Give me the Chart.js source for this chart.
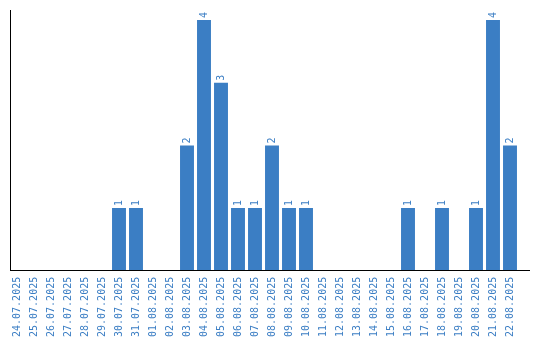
<!DOCTYPE html>
<html><head><meta charset="utf-8">
<script src="https://cdn.jsdelivr.net/npm/chart.js@4/dist/chart.umd.min.js"></script>
<style>html,body{margin:0;padding:0;background:#fff}</style>
</head><body>
<canvas id="c" width="540" height="340"></canvas>
<script>
const categories = ["24.07.2025","25.07.2025","26.07.2025","27.07.2025","28.07.2025","29.07.2025","30.07.2025","31.07.2025","01.08.2025","02.08.2025","03.08.2025","04.08.2025","05.08.2025","06.08.2025","07.08.2025","08.08.2025","09.08.2025","10.08.2025","11.08.2025","12.08.2025","13.08.2025","14.08.2025","15.08.2025","16.08.2025","17.08.2025","18.08.2025","19.08.2025","20.08.2025","21.08.2025","22.08.2025"];
const values = [0,0,0,0,0,0,1,1,0,0,2,4,3,1,1,2,1,1,0,0,0,0,0,1,0,1,0,1,4,2];
const BLUE = '#3b7ec4';

const valueLabels = {
  id: 'valueLabels',
  afterDatasetsDraw(chart) {
    const ctx = chart.ctx;
    const meta = chart.getDatasetMeta(0);
    ctx.save();
    ctx.fillStyle = BLUE;
    ctx.font = '10px "DejaVu Sans Mono", monospace';
    ctx.textAlign = 'left';
    ctx.textBaseline = 'middle';
    meta.data.forEach((bar, i) => {
      const v = values[i];
      if (!v) return;
      ctx.save();
      ctx.translate(bar.x, bar.y - 2);
      ctx.rotate(-Math.PI / 2);
      ctx.fillText(String(v), 0, 0);
      ctx.restore();
    });
    ctx.restore();
  }
};

const axisLines = {
  id: 'axisLines',
  afterDraw(chart) {
    const ctx = chart.ctx;
    const a = chart.chartArea;
    const y0 = Math.round(chart.scales.y.getPixelForValue(0)) - 0.5;
    ctx.save();
    ctx.strokeStyle = '#000';
    ctx.lineWidth = 1;
    ctx.beginPath();
    ctx.moveTo(10.5, a.top);
    ctx.lineTo(10.5, y0);
    ctx.moveTo(10, y0);
    ctx.lineTo(530, y0);
    ctx.stroke();
    ctx.restore();
  }
};

new Chart(document.getElementById('c'), {
  type: 'bar',
  data: { labels: categories, datasets: [{ data: values, backgroundColor: BLUE, categoryPercentage: 1, barPercentage: 0.82 }] },
  options: {
    responsive: false,
    animation: false,
    layout: { padding: { left: 8.5, top: 10, right: 21.5, bottom: -3 } },
    plugins: { legend: { display: false }, tooltip: { enabled: false } },
    scales: {
      x: {
        grid: { display: false, drawTicks: false },
        border: { display: false },
        ticks: { color: BLUE, font: { family: '"DejaVu Sans Mono", monospace', size: 10 }, minRotation: 90, maxRotation: 90, autoSkip: false, padding: 6 }
      },
      y: {
        display: false,
        min: 0, max: 4.16
      }
    }
  },
  plugins: [valueLabels, axisLines]
});
</script>
</body></html>
